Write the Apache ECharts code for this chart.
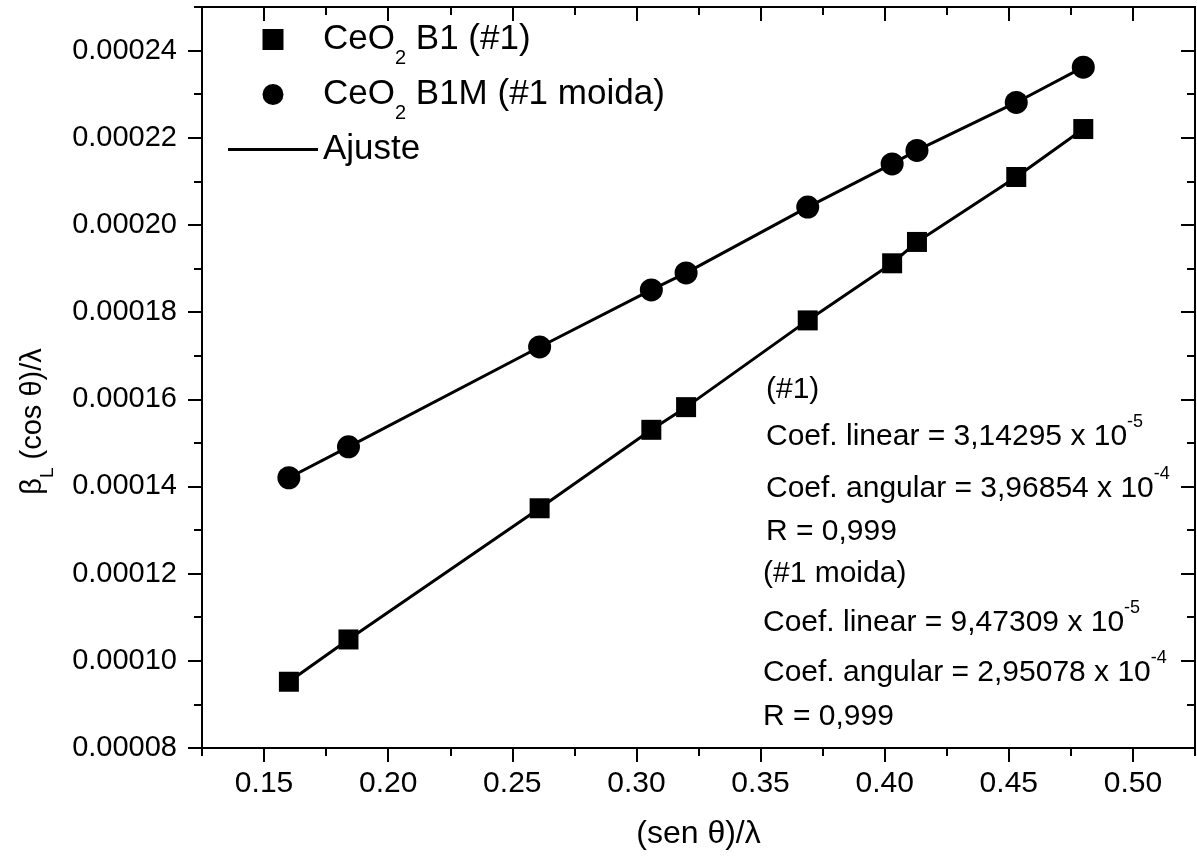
<!DOCTYPE html>
<html>
<head>
<meta charset="utf-8">
<script src="https://cdn.jsdelivr.net/npm/echarts@6/dist/echarts.min.js"></script>
<style>
  html, body { margin: 0; background: #fff; }
  #chart { width: 1197px; height: 859px; }
</style>
</head>
<body>
<div id="chart"></div>
<script>
// values
const senTheta = [0.160, 0.184, 0.261, 0.306, 0.320, 0.369, 0.403, 0.413, 0.453, 0.480];
const betaB1 = [0.0000952, 0.0001049, 0.0001350, 0.0001530, 0.0001582, 0.0001781, 0.0001912, 0.0001961, 0.0002110, 0.0002220];
const betaB1M = [0.0001420, 0.0001491, 0.0001720, 0.0001851, 0.0001890, 0.0002041, 0.0002140, 0.0002171, 0.0002281, 0.0002362];

const xMajorTicks = [0.15, 0.20, 0.25, 0.30, 0.35, 0.40, 0.45, 0.50];
const xMinorTicks = [0.125, 0.175, 0.225, 0.275, 0.325, 0.375, 0.425, 0.475, 0.525];
const yMajorTicks = [0.00008, 0.00010, 0.00012, 0.00014, 0.00016, 0.00018, 0.00020, 0.00022, 0.00024];
const yMinorTicks = [0.00009, 0.00011, 0.00013, 0.00015, 0.00017, 0.00019, 0.00021, 0.00023, 0.00025];

const nameB1 = 'CeO2 B1 (#1)';
const nameB1M = 'CeO2 B1M (#1 moida)';
const nameFit = 'Ajuste';

const fitNotes = [
    '(#1)',
    'Coef. linear = 3,14295 x 10{sup|-5}',
    'Coef. angular = 3,96854 x 10{sup|-4}',
    'R = 0,999',
    '(#1 moida)',
    'Coef. linear = 9,47309 x 10{sup|-5}',
    'Coef. angular = 2,95078 x 10{sup|-4}',
    'R = 0,999'
];

const font = '"Liberation Sans", Arial, sans-serif';
const pairs = (xs, ys) => xs.map((x, i) => [x, ys[i]]);

function xAxis(position, ticks, len, inside, labels) {
    return {
        type: 'value', position: position, min: 0.125, max: 0.525,
        axisLine: { show: true, onZero: false, lineStyle: { color: '#000', width: 2 } },
        axisTick: { show: true, inside: inside, length: len, customValues: ticks, lineStyle: { color: '#000', width: 2 } },
        axisLabel: labels ? {
            show: true, customValues: ticks, margin: 21, color: '#000', fontSize: 30, fontFamily: font,
            formatter: v => v.toFixed(2)
        } : { show: false },
        splitLine: { show: false }
    };
}

function yAxis(position, ticks, len, inside, labels) {
    return {
        type: 'value', position: position, min: 0.00008, max: 0.00025,
        axisLine: { show: true, onZero: false, lineStyle: { color: '#000', width: 2 } },
        axisTick: { show: true, inside: inside, length: len, customValues: ticks, lineStyle: { color: '#000', width: 2 } },
        axisLabel: labels ? {
            show: true, customValues: ticks, margin: 25, color: '#000', fontSize: 29, fontFamily: font,
            formatter: v => v.toFixed(5)
        } : { show: false },
        splitLine: { show: false }
    };
}

let xAxes = [
    xAxis('bottom', xMajorTicks, 14, false, true),
    xAxis('bottom', xMinorTicks, 8, false, false),
    xAxis('top', xMajorTicks, 14, true, false),
    xAxis('top', xMinorTicks, 8, true, false)
];
xAxes[0].name = '(sen θ)/λ';
xAxes[0].nameLocation = 'middle';
xAxes[0].nameGap = 70;
xAxes[0].nameTextStyle = { color: '#000', fontSize: 32, fontFamily: font };

let yAxes = [
    yAxis('left', yMajorTicks, 14, false, true),
    yAxis('left', yMinorTicks, 8, false, false),
    yAxis('right', yMajorTicks, 14, true, false),
    yAxis('right', yMinorTicks, 8, true, false)
];
yAxes[0].name = 'β{sub|L} (cos θ)/λ';
yAxes[0].nameLocation = 'middle';
yAxes[0].nameGap = 145;
yAxes[0].nameTextStyle = {
    color: '#000', fontSize: 29, lineHeight: 49, fontFamily: font, padding: [0, 88, 0, 0],
    rich: { sub: { fontSize: 19, lineHeight: 19, verticalAlign: 'bottom', fontFamily: font, color: '#000' } }
};

const noteX = [766, 766, 766, 766, 763, 763, 763, 763];
const noteY = [390, 437, 489, 532, 574, 623, 673, 717];

let chart = echarts.init(document.getElementById('chart'));

let option = {
    animation: false,
    backgroundColor: '#fff',
    grid: { left: 198, right: 2, top: 7, bottom: 111 },
    xAxis: xAxes,
    yAxis: yAxes,
    legend: {
        orient: 'vertical', left: 228, top: 11, padding: 0, itemGap: -2,
        itemWidth: 90, itemHeight: 21,
        data: [
            { name: nameB1, icon: 'path://M0 0H20V20H0Z' },
            { name: nameB1M, icon: 'circle' },
            { name: nameFit, icon: 'path://M0 0H90V3H0Z' }
        ],
        formatter: name => name.replace('CeO2', 'CeO{sub|2}'),
        textStyle: {
            color: '#000', fontSize: 35, lineHeight: 57, fontFamily: font,
            rich: { sub: { fontSize: 20, lineHeight: 20, verticalAlign: 'bottom', fontFamily: font, color: '#000' } }
        }
    },
    series: [
        {
            name: nameFit, type: 'line', data: pairs(senTheta, betaB1), symbol: 'none', showSymbol: false,
            lineStyle: { color: '#000', width: 3 }, itemStyle: { color: '#000' }, z: 2
        },
        {
            name: nameFit, type: 'line', data: pairs(senTheta, betaB1M), symbol: 'none', showSymbol: false,
            lineStyle: { color: '#000', width: 3 }, itemStyle: { color: '#000' }, z: 2
        },
        {
            name: nameB1, type: 'scatter', data: pairs(senTheta, betaB1), symbol: 'rect',
            symbolSize: 20, itemStyle: { color: '#000', opacity: 1 }, z: 3
        },
        {
            name: nameB1M, type: 'scatter', data: pairs(senTheta, betaB1M), symbol: 'circle',
            symbolSize: 23, itemStyle: { color: '#000', opacity: 1 }, z: 3
        }
    ],
    graphic: fitNotes.map((t, i) => ({
        type: 'text', x: noteX[i], y: noteY[i], z: 10,
        style: {
            text: t, fill: '#000', fontSize: 30, lineHeight: 48, fontFamily: font, verticalAlign: 'middle',
            rich: { sup: { fontSize: 18, lineHeight: 18, verticalAlign: 'top', fontFamily: font, fill: '#000' } }
        }
    }))
};

chart.setOption(option);
</script>
</body>
</html>
